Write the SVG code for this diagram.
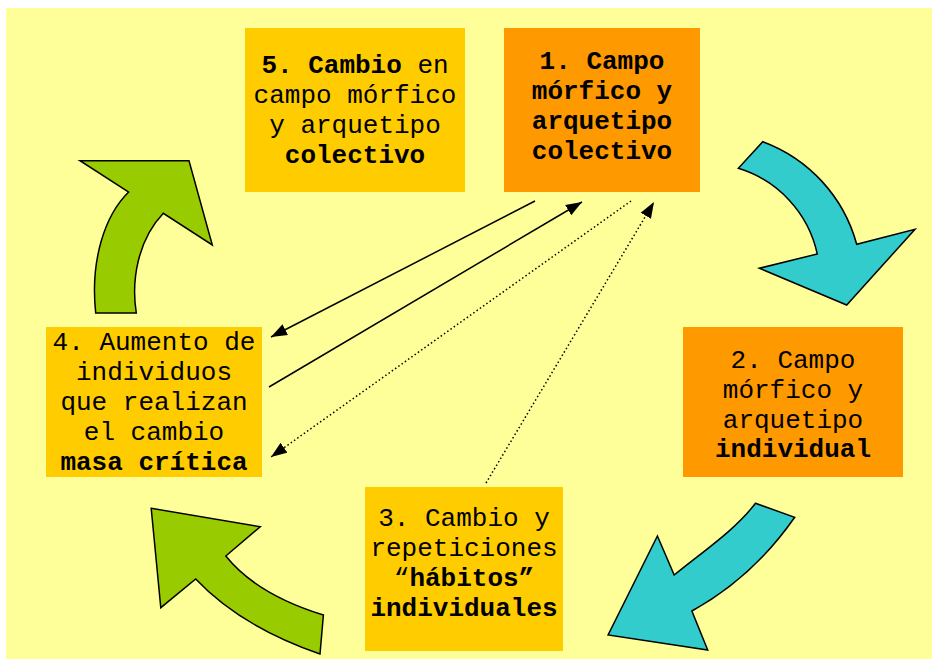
<svg xmlns="http://www.w3.org/2000/svg" width="932" height="659" viewBox="0 0 932 659">
<defs>
<style>
.t{font-family:"Liberation Mono","Courier New",monospace;font-size:26px;fill:#000;text-anchor:middle}
.b{font-weight:bold}
.arr{stroke:#000;stroke-width:1.5;stroke-linejoin:miter}
.ln{stroke:#000;stroke-width:1.5;fill:none}
.dot{stroke-dasharray:1.5,2.5}
</style>
<marker id="ah" markerUnits="userSpaceOnUse" markerWidth="17" markerHeight="13" refX="16" refY="6.5" orient="auto">
<path d="M0,0.5 L16,6.5 L0,12.5 Z" fill="#000"/>
</marker>
</defs>
<rect x="6" y="8" width="926" height="651" fill="#FFFF99"/>

<g id="shapes">
<path class="arr" fill="#99CC00" d="M95.7,313 L136.3,313 C131,280 138,240 163.3,213.3 L212.3,245 L189,160.7 L80,160.7 L128.7,192 C105,215 90,260 95.7,313 Z"/>
<path class="arr" fill="#33CCCC" d="M762.8,141.7 A152 152 0 0 1 856.7,244.3 L915,229.3 L846.7,305 L759.3,268.3 L817.3,254 A115 115 0 0 0 738.3,168.3 Z"/>
<path class="arr" fill="#33CCCC" d="M755.5,503.3 L794.7,517.3 C765,560 730,590 691.9,611 L707.7,650 L608.1,635 L657.4,536 L674.2,575 C705,550 735,530 755.5,503.3 Z"/>
<path class="arr" fill="#99CC00" d="M151.2,508.3 L260.3,526.7 L225.8,556 C245,580 275,600 323.4,615 L320,654 C265,635 225,610 195.7,579 L160.8,607.7 Z"/>
</g>

<g id="node5">
<rect x="245" y="28" width="220" height="164" fill="#FFCC00"/>
<text class="t" x="355" y="73"><tspan class="b">5. Cambio</tspan> en</text>
<text class="t" x="355" y="103">campo mórfico</text>
<text class="t" x="355" y="133">y arquetipo</text>
<text class="t b" x="355" y="163">colectivo</text>
</g>

<g id="node1">
<rect x="504" y="28" width="196" height="164" fill="#FF9900"/>
<text class="t b" x="602" y="69">1. Campo</text>
<text class="t b" x="602" y="99">mórfico y</text>
<text class="t b" x="602" y="129">arquetipo</text>
<text class="t b" x="602" y="159">colectivo</text>
</g>

<g id="node2">
<rect x="683" y="327" width="220" height="150" fill="#FF9900"/>
<text class="t" x="793" y="368">2. Campo</text>
<text class="t" x="793" y="398">mórfico y</text>
<text class="t" x="793" y="428">arquetipo</text>
<text class="t b" x="793" y="457">individual</text>
</g>

<g id="node3">
<rect x="365" y="487" width="198" height="164" fill="#FFCC00"/>
<text class="t" x="464" y="526">3. Cambio y</text>
<text class="t" x="464" y="556">repeticiones</text>
<text class="t" x="464" y="586">“<tspan class="b">hábitos”</tspan></text>
<text class="t b" x="464" y="616">individuales</text>
</g>

<g id="node4">
<rect x="46" y="327" width="216" height="150" fill="#FFCC00"/>
<text class="t" x="154" y="350">4. Aumento de</text>
<text class="t" x="154" y="380">individuos</text>
<text class="t" x="154" y="410">que realizan</text>
<text class="t" x="154" y="440">el cambio</text>
<text class="t b" x="154" y="470">masa crítica</text>
</g>

<g id="connectors">
<line class="ln" x1="535" y1="201" x2="271" y2="337" marker-end="url(#ah)"/>
<line class="ln" x1="269" y1="387" x2="582" y2="202" marker-end="url(#ah)"/>
<line class="ln dot" x1="631" y1="201" x2="271" y2="457" marker-end="url(#ah)"/>
<line class="ln dot" x1="486" y1="483" x2="654" y2="202" marker-end="url(#ah)"/>
</g>
</svg>
